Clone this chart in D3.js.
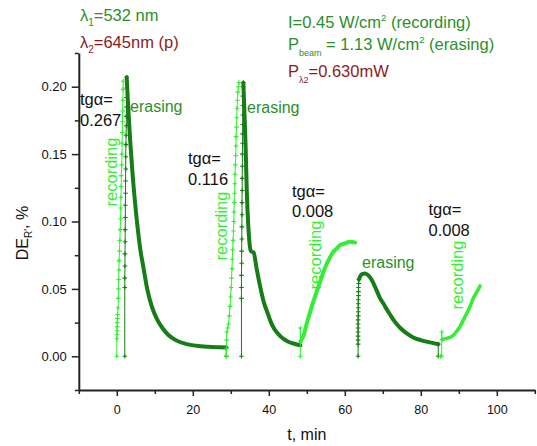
<!DOCTYPE html>
<html><head><meta charset="utf-8">
<script src="https://cdn.jsdelivr.net/npm/d3@7"></script>
<style>body{margin:0;background:#fff} svg{display:block;font-family:"Liberation Sans",Arial,sans-serif}</style>
</head><body><svg id="c" width="537" height="446"></svg>
<script>
// ---------- data (t in min, DE in %) ----------
const xMajorTicks = [0, 20, 40, 60, 80, 100];
const xMinorTicks = [-10, 10, 30, 50, 70, 90, 110];
const yMajorTicks = [0, 0.05, 0.10, 0.15, 0.20];
const yMinorTicks = [-0.025, 0.025, 0.075, 0.125, 0.175, 0.225];

// recording (light green) – sparse vertical parts
const recRise1 = [[0,0],[0,0.013],[0.05,0.016],[0.08,0.019],[0.1,0.022],[0.12,0.025],[0.15,0.028],[0.2,0.031],[0.35,0.036],[0.4,0.043],[0.45,0.05],[0.5,0.057],[0.55,0.064],[0.6,0.071],[0.7,0.078],[0.8,0.086],[0.9,0.094],[1.0,0.102],[1.05,0.11],[1.1,0.118],[1.15,0.126],[1.2,0.134],[1.3,0.142],[1.35,0.15],[1.4,0.158],[1.45,0.166],[1.5,0.174],[1.55,0.182],[1.6,0.19],[1.65,0.198],[1.7,0.204]];
const recRise2 = [[28.9,0],[28.9,0.006],[28.9,0.012],[28.95,0.018],[29.2,0.021],[29.4,0.024],[29.6,0.03],[29.8,0.037],[29.95,0.044],[30.1,0.051],[30.2,0.058],[30.3,0.065],[30.4,0.072],[30.5,0.079],[30.6,0.086],[30.7,0.093],[30.8,0.1],[30.85,0.107],[30.9,0.114],[31.0,0.121],[31.05,0.128],[31.1,0.135],[31.2,0.142],[31.3,0.149],[31.35,0.156],[31.4,0.163],[31.5,0.17],[31.55,0.177],[31.65,0.184],[31.75,0.19],[31.85,0.196],[32.0,0.2],[32.15,0.203]];
const recStart3 = [[48.3,0],[48.3,0.021],[48.35,0.011]];
const recCurve3 = [[48.35,0.011],[49.2,0.0158],[50.0,0.0245],[50.9,0.033],[51.7,0.0405],[52.6,0.048],[53.5,0.0553],[54.4,0.0628],[55.3,0.069],[56.1,0.0734],[57.0,0.0776],[57.9,0.08],[58.8,0.0826],[60.1,0.0838],[61.4,0.085],[62.7,0.0843]];
const recStart4 = [[85.2,0],[85.5,0],[85.5,0.018],[85.6,0.0125]];
const recCurve4 = [[85.6,0.0125],[86.8,0.0133],[87.7,0.0141],[88.6,0.0156],[89.5,0.0188],[90.3,0.022],[91.2,0.027],[92.1,0.0319],[93.0,0.0373],[93.8,0.043],[94.7,0.0475],[95.6,0.0522]];

// erasing (dark green)
const ersRise1 = [[2.1,0],[2.1,0.051],[2.1,0.058],[2.15,0.067],[2.15,0.076],[2.2,0.085],[2.2,0.094],[2.25,0.103],[2.25,0.112],[2.3,0.121],[2.3,0.13],[2.35,0.139],[2.35,0.148],[2.4,0.157],[2.45,0.164],[2.5,0.171],[2.5,0.178],[2.55,0.185],[2.55,0.192],[2.6,0.199],[2.6,0.207]];
const ersDecay1 = [[2.6,0.207],[3.0,0.185],[3.5,0.161],[4.1,0.137],[4.8,0.114],[5.5,0.095],[6.2,0.079],[7.0,0.066],[8.0,0.05],[9.2,0.037],[10.5,0.028],[12,0.021],[13.5,0.016],[15.5,0.012],[18.4,0.009],[21,0.0078],[24,0.0071],[27,0.0067],[28.8,0.0065]];
const ersDrop1 = [[28.8,0.0065],[28.8,0]];
const ersRise2 = [[32.8,0],[32.8,0.043],[32.8,0.051],[32.8,0.06],[32.85,0.069],[32.85,0.078],[32.9,0.087],[32.9,0.096],[32.95,0.105],[32.95,0.114],[33.0,0.123],[33.0,0.132],[33.05,0.141],[33.05,0.15],[33.1,0.158],[33.1,0.165],[33.15,0.172],[33.15,0.179],[33.2,0.186],[33.2,0.193],[33.25,0.2],[33.3,0.203]];
const ersDecay2 = [[33.3,0.203],[33.6,0.18],[33.9,0.155],[34.2,0.123],[34.6,0.097],[35.1,0.08],[35.3,0.078],[36.0,0.077],[36.8,0.065],[37.7,0.052],[38.7,0.04],[39.7,0.032],[40.6,0.025],[41.5,0.02],[43,0.015],[45,0.011],[46.7,0.0093],[48.3,0.0082]];
const ersRise3 = [[63.5,0],[63.5,0.009],[63.5,0.012],[63.5,0.015],[63.5,0.018],[63.5,0.021],[63.5,0.024],[63.5,0.027],[63.55,0.03],[63.55,0.033],[63.55,0.036],[63.55,0.039],[63.55,0.042],[63.6,0.045],[63.6,0.048],[63.6,0.051],[63.65,0.054],[63.7,0.057]];
const ersDecay3 = [[63.7,0.057],[64.1,0.0595],[64.6,0.061],[65.3,0.0615],[66.2,0.06],[67.1,0.0566],[68.2,0.05],[69.3,0.043],[70.2,0.039],[71.0,0.035],[71.9,0.031],[72.8,0.027],[74.6,0.021],[76.3,0.017],[78,0.014],[80,0.012],[82.4,0.0103],[84.6,0.009]];
const ersDrop3 = [[84.6,0.009],[84.6,0]];

const slopeLabels = ["0.267", "0.116", "0.008", "0.008"];

// ---------- drawing ----------
const LIGHT = "#33ee33", DARK = "#177d17", TXTGREEN = "#2b8f2b", TXTRED = "#8c1c1c", AX = "#222";
const svg = d3.select("#c");
const X = d3.scaleLinear().domain([-10, 110]).range([78.8, 534.8]);
const Y = d3.scaleLinear().domain([-0.025, 0.225]).range([390, 53]);

// axes
const gx = svg.append("g").attr("transform", `translate(0,${Y(-0.025)})`)
  .call(d3.axisBottom(X).tickValues(xMajorTicks).tickSize(6).tickSizeOuter(0).tickPadding(9).tickFormat(d3.format("d")));
const gxm = svg.append("g").attr("transform", `translate(0,${Y(-0.025)})`)
  .call(d3.axisBottom(X).tickValues(xMinorTicks).tickSize(4).tickSizeOuter(0).tickFormat(""));
const gy = svg.append("g").attr("transform", `translate(${X(-10)},0)`)
  .call(d3.axisLeft(Y).tickValues(yMajorTicks).tickSize(7).tickSizeOuter(0).tickPadding(5).tickFormat(d3.format(".2f")));
const gym = svg.append("g").attr("transform", `translate(${X(-10)},0)`)
  .call(d3.axisLeft(Y).tickValues(yMinorTicks).tickSize(4).tickSizeOuter(0).tickFormat(""));
gxm.select(".domain").remove(); gym.select(".domain").remove();
[gx, gy].forEach(g => g.select(".domain").attr("stroke", AX).attr("stroke-width", 2));
[gx, gxm, gy, gym].forEach(g => g.selectAll(".tick line").attr("stroke", AX).attr("stroke-width", 1.5));
gx.selectAll(".tick text").attr("font-size", 12.5).attr("fill", "#111").attr("font-family", "Liberation Sans, Arial, sans-serif");
gy.selectAll(".tick text").attr("font-size", 13).attr("fill", "#111").attr("font-family", "Liberation Sans, Arial, sans-serif");

// series
const lineLin = d3.line().x(d => X(d[0])).y(d => Y(d[1]));
const lineSmooth = d3.line().x(d => X(d[0])).y(d => Y(d[1])).curve(d3.curveMonotoneX);
const plus = "M-2.3,0H2.3M0,-2.3V2.3";

function thick(data, color, w) {
  svg.append("path").attr("d", lineSmooth(data)).attr("fill", "none")
    .attr("stroke", color).attr("stroke-width", w).attr("stroke-linecap", "round").attr("stroke-linejoin", "round");
}
function thin(data, color) {
  svg.append("path").attr("d", lineLin(data)).attr("fill", "none").attr("stroke", color).attr("stroke-width", 1);
  svg.append("g").selectAll("path").data(data).join("path")
    .attr("transform", d => `translate(${X(d[0])},${Y(d[1])})`)
    .attr("d", plus).attr("stroke", color).attr("stroke-width", 1.1).attr("fill", "none");
}

thick(ersDecay1, DARK, 4);
thick(ersDecay2, DARK, 4);
thick(ersDecay3, DARK, 4);
thin(ersRise1, DARK); thin(ersRise2, DARK); thin(ersRise3, DARK);
thin(ersDrop1, DARK); thin(ersDrop3, DARK);
thick(recCurve3, LIGHT, 4);
thick(recCurve4, LIGHT, 3.5);
thin(recRise1, LIGHT); thin(recRise2, LIGHT); thin(recStart3, LIGHT); thin(recStart4, LIGHT);

// axis titles
svg.append("text").attr("x", 306.8).attr("y", 440).attr("text-anchor", "middle")
  .attr("font-size", 16).attr("fill", "#111").text("t, min");
const yl = svg.append("text").attr("transform", "translate(28,233) rotate(-90)")
  .attr("text-anchor", "middle").attr("font-size", 16).attr("fill", "#111");
yl.append("tspan").text("DE");
yl.append("tspan").attr("font-size", 10).attr("dy", 4).text("R'");
yl.append("tspan").attr("dy", -4).text(", %");

// annotations
function rich(x, y, color, parts, size) {
  const t = svg.append("text").attr("x", x).attr("y", y).attr("fill", color).attr("font-size", size || 16.5);
  parts.forEach(p => {
    const s = t.append("tspan").text(p[0]);
    if (p[1]) s.attr("font-size", p[1]);
    if (p[2]) s.attr("dy", p[2]);
  });
  return t;
}
rich(80, 21, TXTGREEN, [["λ"], ["1", 10, 5], ["=532 nm", null, -5]]);
rich(80, 48, TXTRED, [["λ"], ["2", 10, 5], ["=645nm (p)", null, -5]]);
rich(288, 28, TXTGREEN, [["I=0.45 W/cm"], ["2", 9.5, -7], [" (recording)", null, 7]]);
rich(288, 50, TXTGREEN, [["P"], ["beam", 9, 6], [" = 1.13 W/cm", null, -6], ["2", 9.5, -7], [" (erasing)", null, 7]]);
rich(288, 77, TXTRED, [["P"], ["λ2", 9, 6], ["=0.630mW", null, -6]]);

// slope labels
const slopePos = [[80, 105, 126], [188, 164, 185], [292, 197, 217], [428.5, 215, 236]];
slopePos.forEach((p, i) => {
  svg.append("text").attr("x", p[0]).attr("y", p[1]).attr("font-size", 16.5).attr("fill", "#111").text("tgα=");
  svg.append("text").attr("x", p[0]).attr("y", p[2]).attr("font-size", 16.5).attr("fill", "#111").text(slopeLabels[i]);
});

// erasing labels
[[130, 112], [247, 113], [362, 268]].forEach(p => {
  svg.append("text").attr("x", p[0]).attr("y", p[1]).attr("font-size", 16).attr("fill", TXTGREEN).text("erasing");
});
// recording labels (vertical)
[[117, 172], [227, 226], [321, 255], [463, 275]].forEach(p => {
  svg.append("text").attr("transform", `translate(${p[0]},${p[1]}) rotate(-90)`).attr("text-anchor", "middle")
    .attr("font-size", 16.5).attr("fill", LIGHT).text("recording");
});
</script></body></html>
